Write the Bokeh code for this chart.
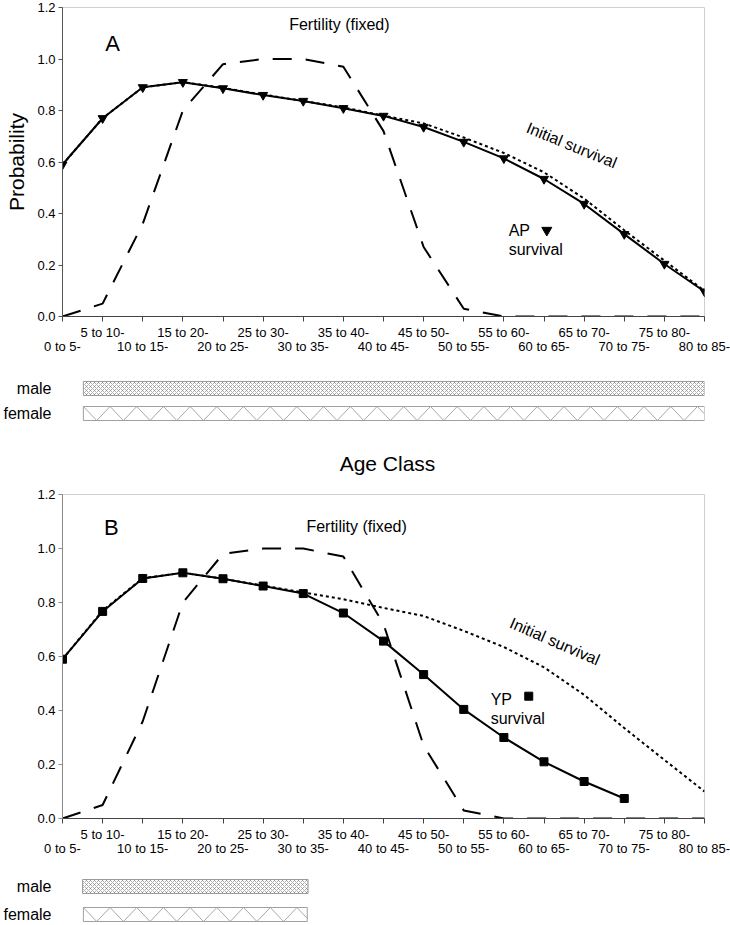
import numpy as np
from bokeh.plotting import figure
from bokeh.layouts import column
from bokeh.models import Range1d, FixedTicker, LinearAxis, PrintfTickFormatter
from bokeh.core.properties import value
from bokeh.embed import file_html
from bokeh.resources import INLINE

# age classes on the x axis
age_classes = ["0 to 5-", "5 to 10-", "10 to 15-", "15 to 20-", "20 to 25-",
               "25 to 30-", "30 to 35-", "35 to 40-", "40 to 45-", "45 to 50-",
               "50 to 55-", "55 to 60-", "60 to 65-", "65 to 70-", "70 to 75-",
               "75 to 80-", "80 to 85-"]

fertility = [0.0, 0.05, 0.36, 0.80, 0.98, 1.0, 1.0, 0.97, 0.72, 0.27, 0.03,
             0.0, 0.0, 0.0, 0.0, 0.0, 0.0]
initial_survival = [0.59, 0.77, 0.89, 0.91, 0.888, 0.862, 0.837, 0.812, 0.78,
                    0.75, 0.695, 0.635, 0.56, 0.458, 0.335, 0.217, 0.10]
ap_survival = [0.59, 0.77, 0.89, 0.91, 0.886, 0.86, 0.837, 0.809, 0.779, 0.736,
               0.678, 0.614, 0.534, 0.437, 0.32, 0.204, 0.097]
yp_survival = [0.59, 0.767, 0.889, 0.91, 0.888, 0.861, 0.833, 0.761, 0.657,
               0.533, 0.404, 0.30, 0.21, 0.137, 0.074]

y_ticks = [0.0, 0.2, 0.4, 0.6, 0.8, 1.0, 1.2]

sexes = ["male", "female"]
a_start = [0.52, 0.52]
a_end = [16.0, 16.0]
b_start = [0.5, 0.52]
b_end = [6.12, 6.1]

FONT = "Liberation Sans"
W = 730
LEFT, RIGHT = 62, 26
N = len(age_classes) - 1
PPU = (W - LEFT - RIGHT) / N


def panel(height, top, survival, marker, letter):
    p = figure(width=W, height=height, x_range=Range1d(0, N), y_range=Range1d(0, 1.2),
               x_axis_type=None, output_backend="svg", toolbar_location=None, tools="",
               min_border_left=LEFT, min_border_right=RIGHT, min_border_top=top,
               min_border_bottom=48, background_fill_color="white")
    p.outline_line_color = "#cfcfcf"
    p.grid.grid_line_color = None

    yax = p.yaxis[0]
    yax.ticker = FixedTicker(ticks=y_ticks)
    yax.formatter = PrintfTickFormatter(format="%.1f")
    yax.axis_label = "Probability" if letter == "A" else None
    yax.axis_label_text_font = FONT
    yax.axis_label_text_font_size = "21px"
    yax.axis_label_text_font_style = "normal"
    yax.axis_label_text_color = "black"
    yax.axis_label_standoff = 6
    yax.major_label_text_font = FONT
    yax.major_label_text_font_size = "13px"
    yax.major_label_text_color = "black"
    yax.major_label_standoff = 3
    yax.major_tick_out = 4
    yax.major_tick_in = 0
    yax.minor_tick_line_color = None
    yax.axis_line_color = "#555555"
    yax.major_tick_line_color = "#555555"

    xs = list(range(len(age_classes)))
    upper = LinearAxis(ticker=FixedTicker(ticks=xs),
                       major_label_overrides={i: (age_classes[i] if i % 2 else "") for i in xs})
    lower = LinearAxis(ticker=FixedTicker(ticks=xs[::2]),
                       major_label_overrides={i: age_classes[i] for i in xs[::2]})
    for ax in (upper, lower):
        ax.major_label_text_font = FONT
        ax.major_label_text_font_size = "13px"
        ax.major_label_text_color = "black"
        ax.minor_tick_line_color = None
        ax.major_tick_in = 0
    upper.major_tick_out = 5
    upper.major_label_standoff = 3
    upper.axis_line_color = "#444444"
    upper.major_tick_line_color = "#444444"
    lower.axis_line_color = None
    lower.major_tick_line_color = None
    lower.major_tick_out = 0
    lower.major_label_standoff = -4
    p.add_layout(upper, "below")
    p.add_layout(lower, "below")

    p.line(xs, initial_survival, line_color="black", line_width=2, line_dash="3 3")
    p.line(xs, fertility, line_color="black", line_width=2, line_dash="19 14")
    sx = xs[:len(survival)]
    p.line(sx, survival, line_color="black", line_width=2)
    p.scatter(sx, survival, marker=marker, size=8 if marker == "square" else 9,
              fill_color="black", line_color="black")
    return p


def txt(p, x, y, s, size, align="left", angle=0.0):
    p.text(x=[x], y=[y], text=[s], text_font=value(FONT), text_font_size=size,
           text_align=align, text_baseline="middle", angle=angle, text_color="black")


def zigzag(x0, x1, yc, half, step):
    half_step = step / 2
    xs = list(np.arange(x0, x1, half_step))
    ys = [yc + half if i % 2 == 0 else yc - half for i in range(len(xs))]
    if xs[-1] < x1:
        nxt = yc - half if ys[-1] > yc else yc + half
        frac = (x1 - xs[-1]) / half_step
        xs.append(x1)
        ys.append(ys[-1] + (nxt - ys[-1]) * frac)
    return xs, ys


def bars(height, starts, ends, male_px, spacing_px):
    # rows: male at y=1, female at y=0; one row step = spacing_px pixels
    top = 1 + male_px / spacing_px
    bottom = 1 - (height - male_px) / spacing_px
    rows = [1, 0]
    b = figure(width=W, height=height, x_range=Range1d(0, N), y_range=Range1d(bottom, top),
               x_axis_type=None, output_backend="svg", toolbar_location=None, tools="",
               min_border_left=LEFT, min_border_right=RIGHT, min_border_top=0,
               min_border_bottom=0)
    b.grid.grid_line_color = None
    b.outline_line_color = None
    yax = b.yaxis[0]
    yax.ticker = FixedTicker(ticks=rows)
    yax.major_label_overrides = {r: s for r, s in zip(rows, sexes)}
    yax.major_label_text_font = FONT
    yax.major_label_text_font_size = "16px"
    yax.major_label_text_color = "black"
    yax.major_label_standoff = 11
    yax.axis_line_color = None
    yax.major_tick_line_color = None
    yax.minor_tick_line_color = None
    yax.major_tick_out = 0
    yax.major_tick_in = 0

    bh = 14 / spacing_px
    b.hbar(y=[rows[0]], left=[starts[0]], right=[ends[0]], height=bh, fill_color="white",
           line_color="#9a9a9a", hatch_pattern="diagonal_cross", hatch_scale=4,
           hatch_weight=0.6, hatch_color="#777777")
    b.hbar(y=[rows[1]], left=[starts[1]], right=[ends[1]], height=bh, fill_color="white",
           line_color="#a0a0a0")
    zx, zy = zigzag(starts[1], ends[1], rows[1], bh / 2, 26.7 / PPU)
    b.line(zx, zy, line_color="#a8a8a8", line_width=1)
    return b, spacing_px


pA = panel(364, 7, ap_survival, "inverted_triangle", "A")
txt(pA, 1.25, 1.06, "A", "22px", "center")
txt(pA, 6.9, 1.135, "Fertility (fixed)", "16px", "center")
txt(pA, 12.69, 0.665, "Initial survival", "16px", "center", -0.39)
txt(pA, 11.12, 0.334, "AP", "16px")
txt(pA, 11.12, 0.26, "survival", "16px")
pA.scatter([12.07], [0.335], marker="inverted_triangle", size=10, fill_color="black",
           line_color="black")

bA, stepA = bars(116, a_start, a_end, 24, 25)
# the shared x-axis title sits below the first set of bars
txt(bA, 8.1, 1 - (99 - 24) / stepA, "Age Class", "21px", "center")

pB = panel(386, 14, yp_survival, "square", "B")
pB.yaxis[0].axis_line_color = "#8a8a8a"
pB.yaxis[0].major_tick_line_color = "#8a8a8a"
txt(pB, 1.22, 1.078, "B", "22px", "center")
txt(pB, 7.33, 1.081, "Fertility (fixed)", "16px", "center")
txt(pB, 12.27, 0.656, "Initial survival", "16px", "center", -0.41)
txt(pB, 10.67, 0.44, "YP", "16px")
txt(pB, 10.67, 0.372, "survival", "16px")
pB.scatter([11.62], [0.453], marker="square", size=8, fill_color="black", line_color="black")

bB, _ = bars(58, b_start, b_end, 20, 28)

layout = column(pA, bA, pB, bB)
open("out.html", "w").write(file_html(layout, INLINE))
